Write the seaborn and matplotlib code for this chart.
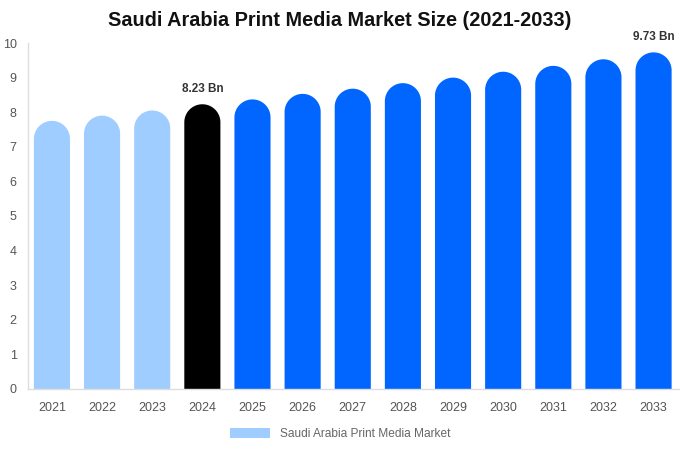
import numpy as np
import pandas as pd
import matplotlib
matplotlib.use("Agg")
import matplotlib.pyplot as plt
import seaborn as sns
from matplotlib.patches import Polygon, Patch

years = ["2021", "2022", "2023", "2024", "2025", "2026", "2027",
         "2028", "2029", "2030", "2031", "2032", "2033"]
values = [7.75, 7.90, 8.05, 8.23, 8.37, 8.53, 8.68, 8.84, 9.00, 9.17, 9.34, 9.53, 9.73]
labels = {"2024": "8.23 Bn", "2033": "9.73 Bn"}

LIGHT = "#A0CDFF"
DARK = "#000000"
BLUE = "#0066FF"
colors = [LIGHT] * 3 + [DARK] + [BLUE] * 9

sns.set_style("white")
plt.rcParams["font.family"] = ["Liberation Sans", "DejaVu Sans"]

df = pd.DataFrame({"year": years, "value": values})

fig = plt.figure(figsize=(6.8, 4.5), dpi=100)
ax = fig.add_axes([0.041, 0.1356, 0.957, 0.7688])

sns.barplot(data=df, x="year", y="value", hue="year", palette=colors,
            legend=False, width=0.72, ax=ax, saturation=1)

ax.set_ylim(0, 10)
ax.set_xlim(-0.48, 12.5)

# swap each bar for a polygon with a rounded (half ellipse) top
fig.canvas.draw()
bbox = ax.get_window_extent()
px_x = bbox.width / (ax.get_xlim()[1] - ax.get_xlim()[0])
px_y = bbox.height / (ax.get_ylim()[1] - ax.get_ylim()[0])
theta = np.linspace(np.pi, 0, 60)
for bar, c in zip(list(ax.patches), colors):
    x0, w, h = bar.get_x(), bar.get_width(), bar.get_height()
    rx = w / 2
    ry = rx * px_x / px_y
    cx, cy = x0 + rx, h - ry
    arc = np.column_stack([cx + rx * np.cos(theta), cy + ry * np.sin(theta)])
    pts = np.vstack([[x0, 0], arc, [x0 + w, 0]])
    bar.set_visible(False)
    ax.add_patch(Polygon(pts, closed=True, facecolor=c, edgecolor="none",
                         linewidth=0))

for i, y in enumerate(years):
    if y in labels:
        ax.text(i, values[i] + 0.27, labels[y], ha="center", va="bottom",
                fontsize=8.5, fontweight="bold", color="#333333")

ax.set_yticks(range(0, 11))
ax.tick_params(axis="both", labelsize=9, colors="#555555", length=0)
ax.tick_params(axis="x", pad=9.5)
ax.tick_params(axis="y", pad=8)
ax.set_xlabel("")
ax.set_ylabel("")
for s in ["top", "right"]:
    ax.spines[s].set_visible(False)
for s in ["left", "bottom"]:
    ax.spines[s].set_color("#DDDDDD")
    ax.spines[s].set_linewidth(1)

fig.suptitle("Saudi Arabia Print Media Market Size (2021-2033)", x=0.5, y=0.975,
             fontsize=14.3, fontweight="bold", color="#111111")

fig.legend(handles=[Patch(facecolor=LIGHT, edgecolor="none",
                          label="Saudi Arabia Print Media Market")],
           loc="center", bbox_to_anchor=(0.5, 0.036), frameon=False,
           fontsize=8.6, handlelength=3.4, handleheight=0.9, labelcolor="#666666")

fig.savefig("out.png", dpi=100)
